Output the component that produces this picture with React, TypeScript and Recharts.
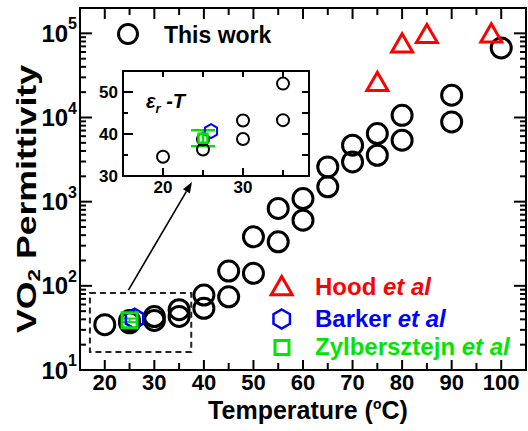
import React from 'react';
import { ScatterChart, Scatter, XAxis, YAxis, ReferenceArea, ReferenceLine, ErrorBar } from 'recharts';

const FONT = '"Liberation Sans", Arial, Helvetica, sans-serif';
const RED = '#ff0000';
const BLUE = '#0000ff';
const GREEN = '#00e600';

// This work: temperature (°C) vs. relative permittivity
const workTemp = [20, 25, 25, 30, 30, 35, 35, 40, 40, 45, 45, 50, 50, 55, 55, 60, 60, 65, 65, 70, 70, 75, 75, 80, 80, 90, 90, 100];
const workEps = [34.6, 36.3, 38.7, 38.8, 43.2, 43.3, 52, 54, 77.7, 74, 150, 141, 382, 333, 830, 603, 1090, 1500, 2590, 2970, 4690, 3560, 6440, 5370, 10600, 8850, 18400, 67000];

// Hood et al
const hoodTemp = [75, 80, 85, 98];
const hoodEps = [24700, 70800, 91600, 93000];

// Barker et al
const barkerTemp = [26];
const barkerEps = [40.7];

// Zylbersztejn et al (with error bar)
const zylTemp = [25];
const zylEps = [39];
const zylErr = [1.9];

const workData = workTemp.map((t, i) => ({ t, eps: workEps[i] }));
const hoodData = hoodTemp.map((t, i) => ({ t, eps: hoodEps[i] }));
const barkerData = barkerTemp.map((t, i) => ({ t, eps: barkerEps[i] }));
const zylData = zylTemp.map((t, i) => ({ t, eps: zylEps[i], err: zylErr[i] }));
const insetWorkData = workData.filter((d) => d.t <= 35);

// Main axes
const mainXDomain: [number, number] = [15, 105];
const mainYDomain: [number, number] = [10, 200000];
const mainXTicks = [20, 25, 30, 35, 40, 45, 50, 55, 60, 65, 70, 75, 80, 85, 90, 95, 100];
const mainXLabels = [20, 30, 40, 50, 60, 70, 80, 90, 100];
const mainYMajor = [10, 100, 1000, 10000, 100000];
const mainYTicks = [10, 100, 1000, 10000]
  .flatMap((d) => [1, 2, 3, 4, 5, 6, 7, 8, 9].map((m) => m * d))
  .concat([100000]);

// Inset (ε_r - T, linear) drawn on hidden axes of the same chart.
// The hidden axes span the whole plot; the inset frame covers insetX × insetY.
const insetX: [number, number] = [15, 38.25];
const insetY: [number, number] = [30, 55];
const insetXAxisDomain: [number, number] = [9.625, 65.375];
const insetYAxisDomain: [number, number] = [-16.19, 70];
const insetXTicks = [20, 25, 30, 35];
const insetXLabels = [20, 30];
const insetYTicks = [30, 35, 40, 45, 50];
const insetYLabels = [30, 40, 50];

// Tick labels of the main axes
const logLabel = (fs: number, gap: number) => (props: any) => {
  const { x, y, payload } = props;
  const v = payload.value;
  return (
    <text x={x - gap} y={y} textAnchor="end" dominantBaseline="central" fontSize={fs} fontWeight="bold" fontFamily={FONT} fill="#000">
      10<tspan dy={-10} fontSize={16}>{Math.round(Math.log10(v))}</tspan>
    </text>
  );
};

const bottomLabel = (fs: number, gap: number) => (props: any) => (
  <text x={props.x} y={props.y + gap} textAnchor="middle" fontSize={fs} fontWeight="bold" fontFamily={FONT} fill="#000">
    {props.payload.value}
  </text>
);

// Inward tick marks at both ends of a horizontal reference segment (optional label at left end)
const hTick = (lenL: number, lenR: number, label?: number, fs = 17) => (p: any) => {
  const xl = Math.min(p.x1, p.x2);
  const xr = Math.max(p.x1, p.x2);
  return (
    <g>
      <line x1={xl} y1={p.y1} x2={xl + lenL} y2={p.y1} stroke="#000" strokeWidth={2} />
      <line x1={xr} y1={p.y1} x2={xr - lenR} y2={p.y1} stroke="#000" strokeWidth={2} />
      {label !== undefined && (
        <text x={xl - 5} y={p.y1} textAnchor="end" dominantBaseline="central" fontSize={fs} fontWeight="bold" fontFamily={FONT} fill="#000">
          {label}
        </text>
      )}
    </g>
  );
};

// Inward tick marks at both ends of a vertical reference segment (optional label below)
const vTick = (lenB: number, lenT: number, label?: number, fs = 17, gap = 17) => (p: any) => {
  const yt = Math.min(p.y1, p.y2);
  const yb = Math.max(p.y1, p.y2);
  return (
    <g>
      <line x1={p.x1} y1={yb} x2={p.x1} y2={yb - lenB} stroke="#000" strokeWidth={2} />
      <line x1={p.x1} y1={yt} x2={p.x1} y2={yt + lenT} stroke="#000" strokeWidth={2} />
      {label !== undefined && (
        <text x={p.x1} y={yb + gap} textAnchor="middle" fontSize={fs} fontWeight="bold" fontFamily={FONT} fill="#000">
          {label}
        </text>
      )}
    </g>
  );
};

const axisLine = { stroke: '#000', strokeWidth: 2 };

// Marker shapes
const circleShape = (r: number, sw: number) => (p: any) => (
  <circle cx={p.cx} cy={p.cy} r={r} fill="none" stroke="#000" strokeWidth={sw} />
);

const triangleShape = (s: number, sw: number, color: string) => (p: any) => {
  const h = (s * Math.sqrt(3)) / 2;
  const { cx, cy } = p;
  return (
    <polygon
      points={`${cx},${cy - (2 * h) / 3} ${cx + s / 2},${cy + h / 3} ${cx - s / 2},${cy + h / 3}`}
      fill="none"
      stroke={color}
      strokeWidth={sw}
    />
  );
};

const hexPoints = (cx: number, cy: number, r: number) => {
  const pts: string[] = [];
  for (let k = 0; k < 6; k++) {
    const a = (Math.PI / 3) * k - Math.PI / 2;
    pts.push(`${cx + r * Math.cos(a)},${cy + r * Math.sin(a)}`);
  }
  return pts.join(' ');
};

const hexShape = (r: number, sw: number, color: string) => (p: any) => (
  <polygon points={hexPoints(p.cx, p.cy, r)} fill="none" stroke={color} strokeWidth={sw} />
);

const squareShape = (s: number, sw: number, color: string) => (p: any) => (
  <rect x={p.cx - s / 2} y={p.cy - s / 2} width={s} height={s} fill="none" stroke={color} strokeWidth={sw} />
);

const arrowShape = (p: any) => {
  const { x1, y1, x2, y2 } = p;
  const ang = Math.atan2(y2 - y1, x2 - x1);
  const L = 11;
  const W = 4;
  const bx = x2 - L * Math.cos(ang);
  const by = y2 - L * Math.sin(ang);
  const px = -Math.sin(ang) * W;
  const py = Math.cos(ang) * W;
  return (
    <g>
      <line x1={x1} y1={y1} x2={bx} y2={by} stroke="#000" strokeWidth={1.6} />
      <polygon points={`${x2},${y2} ${bx + px},${by + py} ${bx - px},${by - py}`} fill="#000" />
    </g>
  );
};

function PermittivityChart() {
  const isMajorY = (v: number) => mainYMajor.includes(v);
  const isMajorX = (v: number) => mainXLabels.includes(v);
  return (
    <ScatterChart width={528} height={431} margin={{ top: 8, right: 2, bottom: 0, left: 0 }}>
      <XAxis xAxisId="b" type="number" dataKey="t" domain={mainXDomain} allowDataOverflow ticks={mainXLabels} interval={0} height={61}
        tickSize={0} tickMargin={0} tickLine={false} axisLine={axisLine} tick={bottomLabel(22, 20)} />
      <YAxis yAxisId="l" type="number" dataKey="eps" scale="log" domain={mainYDomain} allowDataOverflow ticks={mainYMajor} interval={0} width={80}
        tickSize={0} tickMargin={0} tickLine={false} axisLine={axisLine} tick={logLabel(24, 3)} />
      <XAxis xAxisId="ix" type="number" dataKey="t" domain={insetXAxisDomain} allowDataOverflow hide />
      <YAxis yAxisId="zy" type="number" dataKey="eps" domain={insetYAxisDomain} allowDataOverflow width={1} hide />

      {/* main frame and ticks */}
      <ReferenceArea xAxisId="b" yAxisId="l" x1={mainXDomain[0]} x2={mainXDomain[1]} y1={mainYDomain[0]} y2={mainYDomain[1]}
        fill="none" fillOpacity={0} stroke="#000" strokeWidth={2} ifOverflow="visible" />
      {mainYTicks.map((v) => (
        <ReferenceLine key={`y${v}`} xAxisId="b" yAxisId="l" y={v} ifOverflow="visible" shape={isMajorY(v) ? hTick(12, 12) : hTick(6, 6)} />
      ))}
      {mainXTicks.map((v) => (
        <ReferenceLine key={`x${v}`} xAxisId="b" yAxisId="l" x={v} ifOverflow="visible" shape={isMajorX(v) ? vTick(10, 11) : vTick(7, 7)} />
      ))}

      {/* zoomed region and arrow to the inset */}
      <ReferenceArea xAxisId="b" yAxisId="l" x1={17} x2={37.45} y1={16.4} y2={82}
        fill="none" fillOpacity={0} stroke="#222" strokeWidth={2} strokeDasharray="6 4" />
      <ReferenceLine xAxisId="b" yAxisId="l" segment={[{ x: 24.77, y: 89 }, { x: 37.6, y: 1718 }]} shape={arrowShape} />

      {/* inset frame, ticks and labels */}
      <ReferenceArea xAxisId="ix" yAxisId="zy" x1={insetX[0]} x2={insetX[1]} y1={insetY[0]} y2={insetY[1]}
        fill="none" fillOpacity={0} stroke="#000" strokeWidth={2} ifOverflow="visible" />
      {insetYTicks.map((v) => (
        <ReferenceLine
          key={`iy${v}`}
          xAxisId="ix"
          yAxisId="zy"
          segment={[{ x: insetX[0], y: v }, { x: insetX[1], y: v }]}
          ifOverflow="visible"
          shape={insetYLabels.includes(v) ? hTick(10, 7, v) : hTick(5, 7)}
        />
      ))}
      {insetXTicks.map((v) => (
        <ReferenceLine
          key={`ix${v}`}
          xAxisId="ix"
          yAxisId="zy"
          segment={[{ x: v, y: insetY[0] }, { x: v, y: insetY[1] }]}
          ifOverflow="visible"
          shape={insetXLabels.includes(v) ? vTick(8, 6, v) : vTick(6, 6)}
        />
      ))}

      {/* main series */}
      <Scatter xAxisId="b" yAxisId="l" data={workData} shape={circleShape(10, 3)} isAnimationActive={false} />
      <Scatter xAxisId="b" yAxisId="l" data={hoodData} shape={triangleShape(21, 3, RED)} isAnimationActive={false} />
      <Scatter xAxisId="b" yAxisId="l" data={barkerData} shape={hexShape(10, 2.5, BLUE)} isAnimationActive={false} />
      <Scatter xAxisId="b" yAxisId="l" data={zylData} shape={squareShape(15, 3, GREEN)} isAnimationActive={false}>
        <ErrorBar dataKey="err" direction="y" width={8} stroke={GREEN} strokeWidth={2} isAnimationActive={false} />
      </Scatter>

      {/* inset series */}
      <Scatter xAxisId="ix" yAxisId="zy" data={insetWorkData} shape={circleShape(6, 2)} isAnimationActive={false} />
      <Scatter xAxisId="ix" yAxisId="zy" data={barkerData} shape={hexShape(7, 2, BLUE)} isAnimationActive={false} />
      <Scatter xAxisId="ix" yAxisId="zy" data={zylData} shape={squareShape(9, 2.5, GREEN)} isAnimationActive={false}>
        <ErrorBar dataKey="err" direction="y" width={12} stroke={GREEN} strokeWidth={2.5} isAnimationActive={false} />
      </Scatter>
    </ScatterChart>
  );
}

function Annotations() {
  const txt = { fontFamily: FONT, fontWeight: 'bold' as const };
  return (
    <svg width={528} height={431} style={{ position: 'absolute', left: 0, top: 0, pointerEvents: 'none' }}>
      {/* axis titles */}
      <text
        transform="translate(27,199) rotate(-90)"
        textAnchor="middle"
        dominantBaseline="central"
        fontSize={27}
        {...txt}
        fill="#000"
        textLength={268}
        lengthAdjust="spacingAndGlyphs"
      >
        VO<tspan dy={7} fontSize={17}>2</tspan>
        <tspan dy={-7}> Permittivity</tspan>
      </text>
      <text x={308} y={419} textAnchor="middle" fontSize={25} {...txt} fill="#000">
        Temperature (<tspan dy={-10} fontSize={14}>o</tspan>
        <tspan dy={10}>C)</tspan>
      </text>

      {/* legend */}
      <circle cx={128} cy={34} r={9.5} fill="none" stroke="#000" strokeWidth={3} />
      <text x={164} y={43} fontSize={23} {...txt} fill="#000">This work</text>

      <polygon points="281.7,276.5 292.2,294.7 271.2,294.7" fill="none" stroke={RED} strokeWidth={3} />
      <text x={315} y={295} fontSize={24} {...txt} fill={RED}>
        Hood <tspan fontStyle="italic">et al</tspan>
      </text>

      <polygon points={hexPoints(281.7, 319, 9.5)} fill="none" stroke={BLUE} strokeWidth={2.5} />
      <text x={315} y={326.5} fontSize={24} {...txt} fill={BLUE}>
        Barker <tspan fontStyle="italic">et al</tspan>
      </text>

      <rect x={275} y={340.5} width={14} height={14} fill="none" stroke={GREEN} strokeWidth={3} />
      <text x={315} y={355} fontSize={24} {...txt} fill={GREEN}>
        Zylbersztejn <tspan fontStyle="italic">et al</tspan>
      </text>

      {/* inset title */}
      <text x={146} y={108} fontSize={20} fontStyle="italic" {...txt} fill="#000">
        ε<tspan dy={5} fontSize={13}>r</tspan>
        <tspan dy={-5}> -T</tspan>
      </text>
    </svg>
  );
}

export default function App() {
  return (
    <div style={{ position: 'absolute', left: 0, top: 0, width: 528, height: 431, background: '#fff' }}>
      <PermittivityChart />
      <Annotations />
    </div>
  );
}
